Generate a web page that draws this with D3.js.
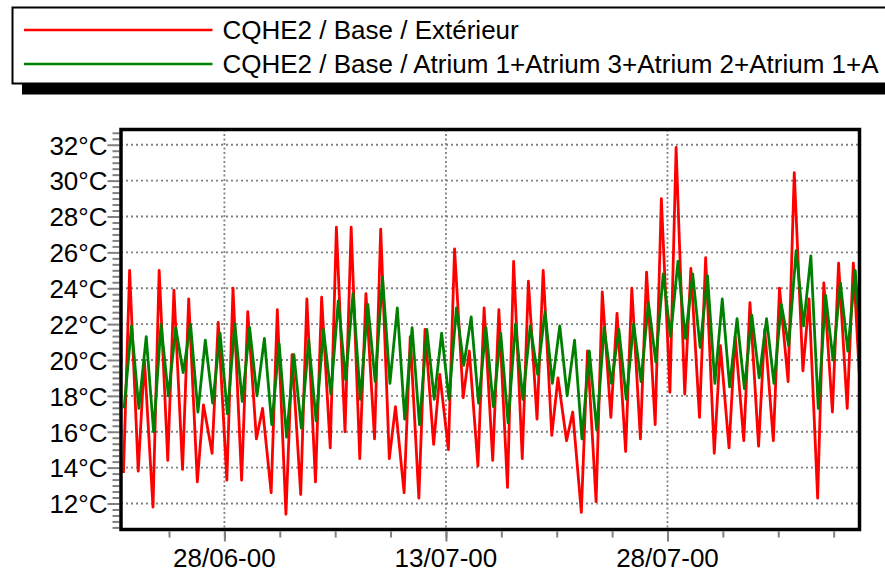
<!DOCTYPE html>
<html>
<head>
<meta charset="utf-8">
<script src="https://cdn.jsdelivr.net/npm/d3@7"></script>
<style>
  html, body { margin: 0; padding: 0; background: #fff; overflow: hidden; }
  text { font-family: "Liberation Sans", Arial, Helvetica, sans-serif; }
</style>
</head>
<body>
<svg id="chart" width="885" height="572"></svg>
<script>
// ---------------- DATA ----------------
const seriesNames = ["CQHE2 / Base / Extérieur", "CQHE2 / Base / Atrium 1+Atrium 3+Atrium 2+Atrium 1+A"];
const startDay = "21/06-00";   // first day shown
const endDay = "10/08-00";     // end of the time axis
// daily extremes of the outdoor temperature (°C), one value per day from 21/06
const redMin = [13.7,13.8,11.8,14.4,13.9,13.2,14.8,13.3,13.3,15.6,
                12.6,11.4,12.5,13.2,15.1,16.0,14.5,15.6,14.5,12.6,
                12.3,15.3,15.0,17.9,14.1,14.4,12.9,14.5,16.7,15.8,
                15.5,11.5,12.1,16.8,14.9,15.6,16.4,18.2,18.1,16.8,
                14.8,15.1,15.5,15.2,15.5,18.8,19.4,12.3,17.1,17.3];
const redMax = [25.0,20.0,25.0,23.9,23.4,17.5,22.1,24.0,22.7,17.3,
                22.8,20.3,23.4,23.5,27.4,27.4,23.7,27.3,17.4,21.3,
                21.7,19.2,26.2,20.5,22.9,22.8,25.5,24.4,25.0,19.0,
                17.1,20.5,23.8,22.6,24.0,24.9,29.0,31.85,25.1,25.7,
                20.8,21.3,23.2,21.7,24.0,30.45,23.4,24.3,25.4,25.4];
const redEnd = 19.0;
// daily extremes of the atrium temperature (°C)
const greenMin = [17.3,17.3,16.0,18.0,19.3,17.1,17.6,17.0,17.7,18.0,
                  16.4,15.7,16.2,16.6,18.1,18.9,17.8,18.8,18.7,16.7,
                  16.4,17.8,17.8,19.7,17.6,17.4,16.5,17.8,19.2,18.7,
                  18.0,15.6,16.1,18.7,17.8,18.8,19.9,21.3,21.2,20.7,
                  18.7,18.5,18.4,19.0,18.7,20.8,21.9,17.3,20.0,20.5];
const greenMax = [21.9,21.3,22.0,21.8,22.0,21.1,21.5,22.0,21.8,21.2,
                  20.9,20.3,21.1,21.7,23.3,23.7,23.1,24.6,22.9,21.8,
                  21.7,21.5,22.9,22.4,21.8,21.5,22.0,21.9,22.7,21.9,
                  21.1,20.5,21.8,21.7,22.0,23.2,24.8,25.5,24.8,24.7,
                  23.4,22.3,22.5,22.3,23.1,26.1,25.8,23.6,24.3,25.0];
const greenEnd = 21.8;
// hour of day of the daily extremes
const redMinHour = 4, redMaxHour = 14, greenMinHour = 5, greenMaxHour = 17;
// tick labels
const yTickValues = [12,14,16,18,20,22,24,26,28,30,32];
const xTickLabels = ["28/06-00", "13/07-00", "28/07-00"];
const yDomain = [10.55, 32.85];

// ---------------- BUILD ----------------
const parse = d3.timeParse("%d/%m-%y");
const t0 = parse(startDay), t1 = parse(endDay);
const HOUR = 3600 * 1000, DAY = 24 * HOUR;

function buildSeries(mins, maxs, hMin, hMax, endVal) {
  const pts = [];
  mins.forEach((v, i) => {
    pts.push({ t: new Date(+t0 + i * DAY + hMin * HOUR), v: v });
    pts.push({ t: new Date(+t0 + i * DAY + hMax * HOUR), v: maxs[i] });
  });
  pts.push({ t: t1, v: endVal });
  return pts;
}
const redData = buildSeries(redMin, redMax, redMinHour, redMaxHour, redEnd);
const greenData = buildSeries(greenMin, greenMax, greenMinHour, greenMaxHour, greenEnd);

const svg = d3.select("#chart");
const L = 121, R = 859.5, T = 129.5, B = 529.5;

const x = d3.scaleTime().domain([t0, t1]).range([L, R]);
const y = d3.scaleLinear().domain(yDomain).range([B, T]);

const majorDates = xTickLabels.map(parse);
const step = (majorDates[1] - majorDates[0]) / 4;
const minorDates = [];
for (let k = -4; k <= 20; k++) {
  const d = new Date(+majorDates[0] + k * step);
  if (d > t0 && d < t1) minorDates.push(d);
}
const yMinor = d3.range(Math.ceil(yDomain[0] * 3), Math.floor(yDomain[1] * 3) + 1)
  .map(k => k / 3).filter(v => Math.abs(v / 2 - Math.round(v / 2)) > 1e-6);

const gridColor = "#808080";

// gridlines
svg.append("g").selectAll("line").data(yTickValues).join("line")
  .attr("x1", L).attr("x2", R)
  .attr("y1", d => y(d)).attr("y2", d => y(d))
  .attr("stroke", gridColor).attr("stroke-width", 1.8)
  .attr("stroke-dasharray", "2,3");
svg.append("g").selectAll("line").data(majorDates).join("line")
  .attr("x1", d => x(d)).attr("x2", d => x(d))
  .attr("y1", T).attr("y2", B)
  .attr("stroke", gridColor).attr("stroke-width", 1.8)
  .attr("stroke-dasharray", "2,2.5");

// series
const line = d3.line().x(d => x(d.t)).y(d => y(d.v));
svg.append("path").datum(redData).attr("d", line)
  .attr("fill", "none").attr("stroke", "#ff0000").attr("stroke-width", 2.8)
  .attr("stroke-linejoin", "round");
svg.append("path").datum(greenData).attr("d", line)
  .attr("fill", "none").attr("stroke", "#008000").attr("stroke-width", 2.8)
  .attr("stroke-linejoin", "round");

// y axis ticks
const yAxisMajor = d3.axisLeft(y).tickValues(yTickValues).tickSize(12).tickPadding(0)
  .tickFormat(d => d + "°C");
const gy = svg.append("g").attr("transform", `translate(${L - 1.5},0)`).call(yAxisMajor);
gy.select(".domain").remove();
gy.selectAll(".tick line").attr("stroke", gridColor).attr("stroke-width", 2);
gy.selectAll(".tick text").attr("font-size", 26).attr("fill", "#000")
  .attr("font-family", '"Liberation Sans", Arial, sans-serif').attr("dy", "0.36em");
const gy2 = svg.append("g").attr("transform", `translate(${L - 1.5},0)`)
  .call(d3.axisLeft(y).tickValues(yMinor).tickSize(7).tickFormat(""));
gy2.select(".domain").remove();
gy2.selectAll(".tick line").attr("stroke", gridColor).attr("stroke-width", 2);

// x axis ticks
const gx = svg.append("g").attr("transform", `translate(0,${B + 2})`)
  .call(d3.axisBottom(x).tickValues(minorDates).tickSize(6).tickFormat(""));
gx.select(".domain").remove();
gx.selectAll(".tick line").attr("stroke", gridColor).attr("stroke-width", 2);
const gx2 = svg.append("g").attr("transform", `translate(0,${B + 2})`)
  .call(d3.axisBottom(x).tickValues(majorDates).tickSize(10).tickFormat(""));
gx2.select(".domain").remove();
gx2.selectAll(".tick line").attr("stroke", gridColor).attr("stroke-width", 2);
svg.append("g").selectAll("text").data(majorDates).join("text")
  .attr("x", d => x(d)).attr("y", 567)
  .attr("text-anchor", "middle").attr("font-size", 26).attr("fill", "#000")
  .text((d, i) => xTickLabels[i]);

// frame
svg.append("rect").attr("x", L).attr("y", T).attr("width", R - L).attr("height", B - T)
  .attr("fill", "none").attr("stroke", "#000").attr("stroke-width", 3.5);

// legend
svg.append("rect").attr("x", 22).attr("y", 83.5).attr("width", 900).attr("height", 11).attr("fill", "#000");
svg.append("rect").attr("x", 12.5).attr("y", 7.5).attr("width", 900).attr("height", 76)
  .attr("fill", "#fff").attr("stroke", "#000").attr("stroke-width", 2);
const legColors = ["#ff0000", "#008000"];
const legY = [30, 64];
seriesNames.forEach((name, i) => {
  svg.append("line").attr("x1", 24).attr("x2", 212.5).attr("y1", legY[i]).attr("y2", legY[i])
    .attr("stroke", legColors[i]).attr("stroke-width", 2.5);
  svg.append("text").attr("x", 222.5).attr("y", legY[i] + 9.3)
    .attr("font-size", 26).attr("fill", "#000").text(name);
});
</script>
</body>
</html>
